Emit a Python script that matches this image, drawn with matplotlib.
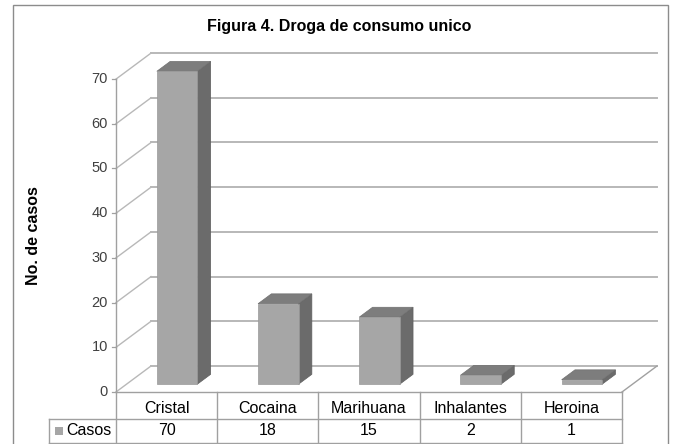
import matplotlib
matplotlib.use("Agg")
import matplotlib.pyplot as plt
from matplotlib.patches import Polygon, Rectangle

categories = ["Cristal", "Cocaina", "Marihuana", "Inhalantes", "Heroina"]
casos = [70, 18, 15, 2, 1]
yticks = [0, 10, 20, 30, 40, 50, 60, 70]
series_name = "Casos"
title = "Figura 4. Droga de consumo unico"
ylabel = "No. de casos"

plt.rcParams["font.family"] = ["Liberation Sans", "DejaVu Sans"]

W, H = 673, 444
fig = plt.figure(figsize=(W / 100, H / 100), dpi=100)
ax = fig.add_axes([0, 0, 1, 1])
ax.axis("off")

# map category/value units onto the figure (Excel-like 3d box, oblique depth)
x0_px, y0_px = 116, 392
px_cat, px_val = 101.2, 4.47
ax.set_xlim(-x0_px / px_cat, (W - x0_px) / px_cat)
ax.set_ylim(-(H - y0_px) / px_val, y0_px / px_val)
DX, DY = 35 / px_cat, 26 / px_val
n = len(categories)
ytop = max(yticks)

grid_c = "#b8b8b8"
line_c = "#a0a0a0"


def P(x, y, f):
    return (x + DX * f, y + DY * f)


# back wall gridlines + left wall diagonals
for v in yticks:
    a, b = P(0, v, 1), P(n, v, 1)
    ax.plot([a[0], b[0]], [a[1], b[1]], color=grid_c, lw=1.4, zorder=1)
    a, b = P(0, v, 0), P(0, v, 1)
    ax.plot([a[0], b[0]], [a[1], b[1]], color=grid_c, lw=1.0, zorder=1)
    # tick + label
    ax.plot([-4 / px_cat, 0], [v, v], color=line_c, lw=0.9, zorder=2)
    ax.text(-8 / px_cat, v, str(v), ha="right", va="center", fontsize=10.5, color="#404040")

# floor right edge and y axis
a, b = P(n, 0, 0), P(n, 0, 1)
ax.plot([a[0], b[0]], [a[1], b[1]], color=line_c, lw=1.0, zorder=1)
ax.plot([0, 0], [0, ytop], color=line_c, lw=1.0, zorder=2)

# bars
f0, f1 = 0.3, 0.68
bw = 0.4
for i, v in enumerate(casos):
    xl, xr = i + 0.5 - bw / 2, i + 0.5 + bw / 2
    front = [P(xl, 0, f0), P(xr, 0, f0), P(xr, v, f0), P(xl, v, f0)]
    side = [P(xr, 0, f0), P(xr, 0, f1), P(xr, v, f1), P(xr, v, f0)]
    top = [P(xl, v, f0), P(xr, v, f0), P(xr, v, f1), P(xl, v, f1)]
    ax.add_patch(Polygon(side, closed=True, fc="#6b6b6b", ec="#5f5f5f", lw=0.5, zorder=3))
    ax.add_patch(Polygon(top, closed=True, fc="#7d7d7d", ec="#707070", lw=0.5, zorder=3))
    ax.add_patch(Polygon(front, closed=True, fc="#a6a6a6", ec="#999999", lw=0.5, zorder=4))

# data table
r1, r2 = 27 / px_val, 24 / px_val
leg_x = -67 / px_cat
tc = "#a0a0a0"
ax.plot([0, n], [0, 0], color=tc, lw=1.0, zorder=2)
ax.plot([leg_x, n], [-r1, -r1], color=tc, lw=1.0)
ax.plot([leg_x, n], [-r1 - r2, -r1 - r2], color=tc, lw=1.0)
ax.plot([leg_x, leg_x], [-r1, -r1 - r2], color=tc, lw=1.0)
for k in range(n + 1):
    ax.plot([k, k], [0, -r1 - r2], color=tc, lw=1.0)
for i, (c, v) in enumerate(zip(categories, casos)):
    ax.text(i + 0.5, -r1 * 0.6, c, ha="center", va="center", fontsize=11.5, color="#000000")
    ax.text(i + 0.5, -r1 - r2 * 0.48, str(v), ha="center", va="center", fontsize=11.5, color="#000000")
ax.add_patch(Rectangle((leg_x + 6 / px_cat, -r1 - r2 * 0.48 - 4 / px_val), 8 / px_cat, 8 / px_val,
                       fc="#a6a6a6", ec="none"))
ax.text(leg_x + 17 / px_cat, -r1 - r2 * 0.48, series_name, ha="left", va="center", fontsize=11.5)

# titles
fig.text(339 / W, 1 - 26 / H, title, ha="center", va="center", fontsize=11.5, fontweight="bold")
fig.text(34 / W, 1 - 236 / H, ylabel, ha="center", va="center", rotation=90, fontsize=11.5,
         fontweight="bold")

# chart area border
fig.patches.append(Rectangle((13 / W, -0.05), (668 - 13) / W, 1.05 - 5 / H, transform=fig.transFigure,
                             fill=False, ec="#8c8c8c", lw=1.0))

fig.savefig("out.png", dpi=100)
